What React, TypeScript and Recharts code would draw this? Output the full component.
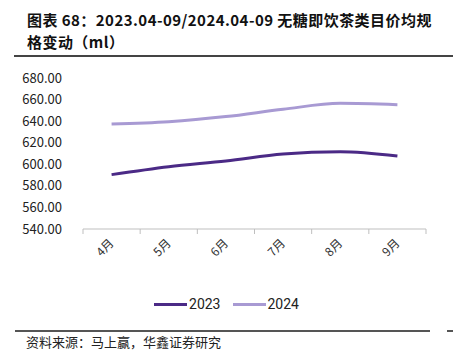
import { LineChart, Line, XAxis, YAxis, Legend } from "recharts";

const months = ["4月", "5月", "6月", "7月", "8月", "9月"];
const values2023 = [590.4, 597.8, 603, 609.5, 611.7, 607.7];
const values2024 = [637.4, 639.5, 644.2, 651, 656.5, 655.3];
const yTicks = [540, 560, 580, 600, 620, 640, 660, 680];

const data = months.map((m, i) => ({
  x: i + 0.5,
  month: m,
  y2023: values2023[i],
  y2024: values2024[i],
}));

const xTicks: number[] = [];
for (let i = 0; i <= months.length * 2; i++) xTicks.push(i / 2);

const FONT = "'Noto Sans CJK SC', 'Noto Sans', sans-serif";

function MonthTick(props: any) {
  const { x, y, payload } = props;
  const v = payload.value as number;
  if (Number.isInteger(v)) {
    return <line x1={x} y1={y} x2={x} y2={y + 5} stroke="#bfbfbf" strokeWidth={1} />;
  }
  const label = months[Math.floor(v)];
  return (
    <g transform={`translate(${x + 3}, ${y + 15})`}>
      <text x={0} y={0} textAnchor="end" transform="rotate(-45)" fontSize={12} fill="#333" fontFamily={FONT}>
        {label}
      </text>
    </g>
  );
}

function LegendContent(props: any) {
  const { payload } = props;
  return (
    <div style={{ display: "flex", justifyContent: "center", gap: 12, fontFamily: "Roboto, 'Noto Sans', sans-serif", fontSize: 14, color: "#222" }}>
      {(payload || []).map((p: any) => (
        <div key={p.value} style={{ display: "flex", alignItems: "center" }}>
          <span style={{ display: "inline-block", width: 33, height: 3, background: p.color, marginRight: 2 }} />
          <span>{p.value}</span>
        </div>
      ))}
    </div>
  );
}

export default function App() {
  return (
    <div style={{ position: "absolute", left: 0, top: 0, width: 453, height: 358, background: "#fff", overflow: "hidden" }}>
      <div style={{ position: "absolute", left: 27, top: 9, fontFamily: FONT, fontWeight: 700, fontSize: 15, lineHeight: "22px", letterSpacing: "0.45px", color: "#111", whiteSpace: "nowrap" }}>
        <div>图表 68：2023.04-09/2024.04-09 无糖即饮茶类目价均规</div>
        <div>格变动（ml）</div>
      </div>
      <div style={{ position: "absolute", left: 14, top: 55, width: 439, height: 1.5, background: "#444" }} />
      <div style={{ position: "absolute", left: 0, top: 0 }}>
        <LineChart width={453} height={358} data={data} margin={{ top: 78, right: 27, bottom: 99, left: 0 }}>
          <XAxis
            dataKey="x"
            type="number"
            domain={[0, 6]}
            ticks={xTicks}
            interval={0}
            tick={<MonthTick />}
            tickLine={false}
            tickSize={0}
            tickMargin={0}
            axisLine={{ stroke: "#bfbfbf" }}
            height={30}
          />
          <YAxis
            domain={[540, 680]}
            ticks={yTicks}
            interval={0}
            width={83}
            axisLine={false}
            tickLine={false}
            tickSize={0}
            tickMargin={21}
            tickFormatter={(v: number) => v.toFixed(2)}
            tick={{ fontSize: 13, fill: "#222", fontFamily: FONT }}
          />
          <Legend
            layout="horizontal"
            verticalAlign="middle"
            align="center"
            content={<LegendContent />}
            wrapperStyle={{ position: "absolute", top: 296, left: 0, width: 453 }}
          />
          <Line type="monotone" dataKey="y2023" name="2023" stroke="#4b2a86" strokeWidth={3} dot={false} isAnimationActive={false} />
          <Line type="monotone" dataKey="y2024" name="2024" stroke="#a89ad3" strokeWidth={3} dot={false} isAnimationActive={false} />
        </LineChart>
      </div>
      <div style={{ position: "absolute", left: 15, top: 330, width: 415, height: 1.5, background: "#555" }} />
      <div style={{ position: "absolute", left: 447, top: 330, width: 6, height: 1.5, background: "#555" }} />
      <div style={{ position: "absolute", left: 26, top: 333, fontFamily: FONT, fontSize: 13, lineHeight: "18px", color: "#222", whiteSpace: "nowrap" }}>
        资料来源：马上赢，华鑫证券研究
      </div>
    </div>
  );
}
